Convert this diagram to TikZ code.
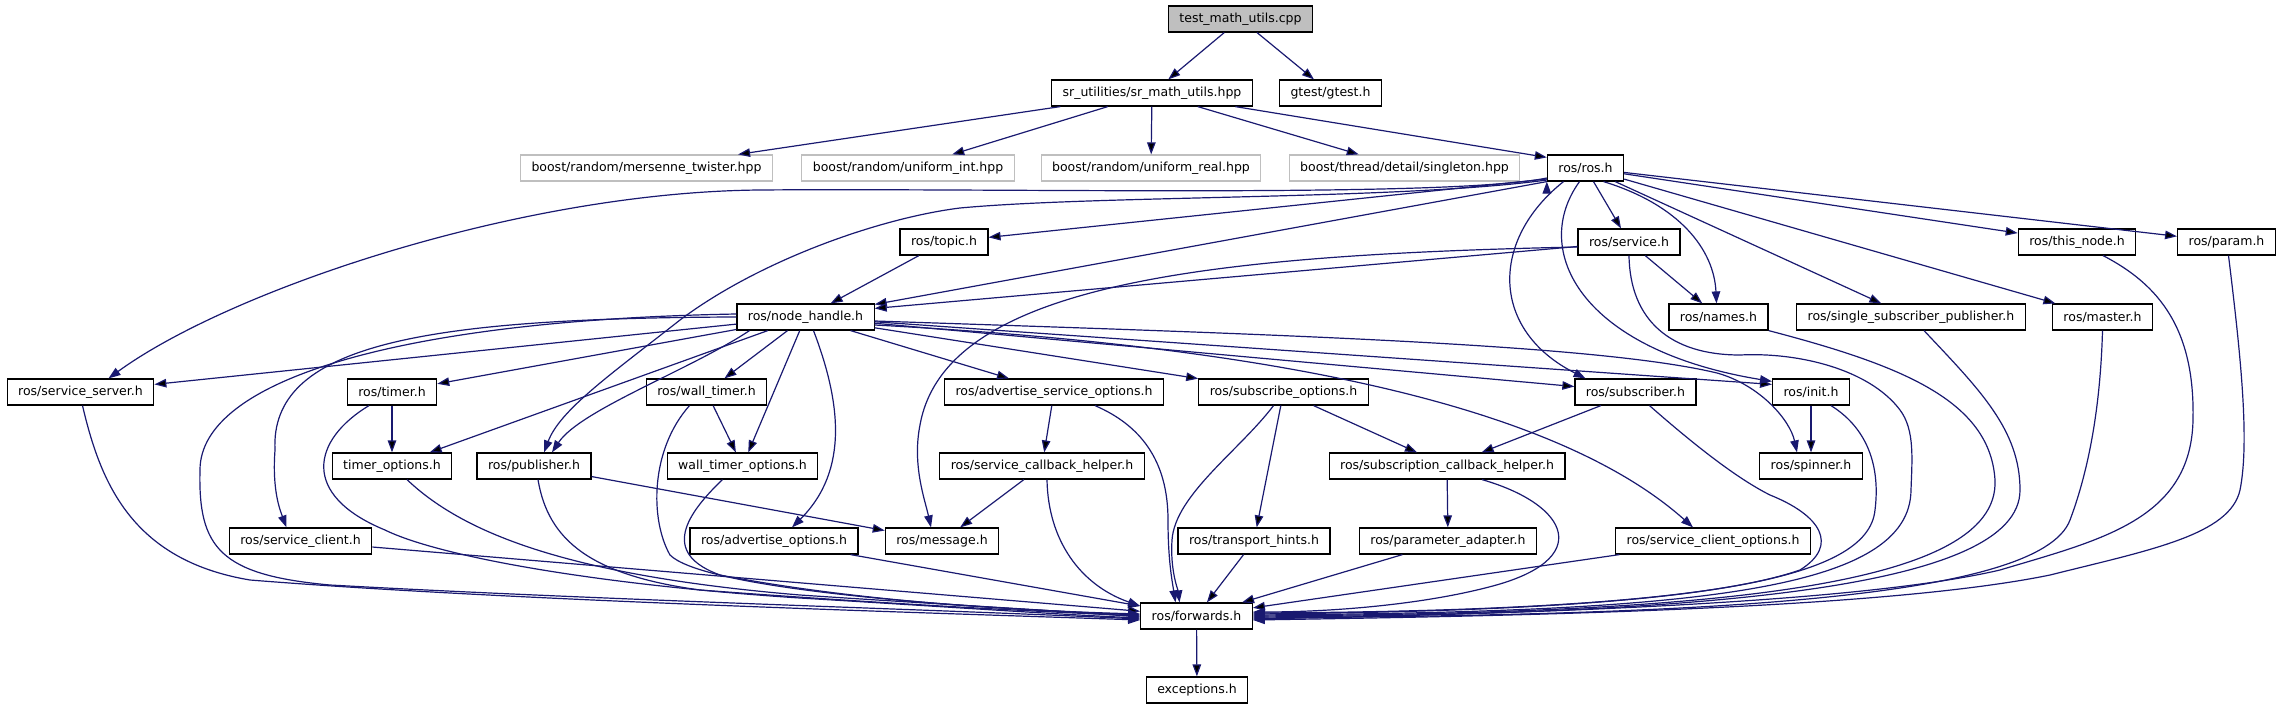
\documentclass[tikz,border=0pt]{standalone}
\usepackage{fontspec}
\setmainfont{DejaVu Sans}
\usepackage{tikz}
\usetikzlibrary{arrows.meta}
\definecolor{edgeblue}{HTML}{191970}
\definecolor{extgray}{HTML}{BFBFBF}
\tikzset{
  header/.style={
    draw=black,
    line width=1.2pt,
    fill=white,
    minimum height=26pt,
    inner xsep=11pt,
    inner ysep=0pt,
    font=\fontsize{12.5}{15}\selectfont
  },
  ext header/.style={
    header,
    draw=extgray
  },
  main header/.style={
    header,
    fill=extgray
  },
  dep/.style={
    draw=edgeblue,
    line width=1.2pt,
    ->
  }
}

\begin{document}
\begin{tikzpicture}[x=1pt, y=-1pt, >={Triangle[length=12pt,width=8.5pt]}]
   \useasboundingbox (0,0) rectangle (2281,709);

   \node[main header] (test) at (1240.5,19) {test\_math\_utils.cpp};
   \node[header] (srmath) at (1152,93) {sr\_utilities/sr\_math\_utils.hpp};
   \node[header] (gtest) at (1330.5,93) {gtest/gtest.h};
   \node[ext header] (twister) at (646.5,168) {boost/random/mersenne\_twister.hpp};
   \node[ext header] (uniint) at (908,168) {boost/random/uniform\_int.hpp};
   \node[ext header] (unireal) at (1151,168) {boost/random/uniform\_real.hpp};
   \node[ext header] (singleton) at (1404.5,168) {boost/thread/detail/singleton.hpp};
   \node[header] (ros) at (1585.5,168) {ros/ros.h};
   \node[header] (topic) at (944,242) {ros/topic.h};
   \node[header] (service) at (1629,242) {ros/service.h};
   \node[header] (thisnode) at (2077,242) {ros/this\_node.h};
   \node[header] (param) at (2226.5,242) {ros/param.h};
   \node[header] (nodehandle) at (805.5,317) {ros/node\_handle.h};
   \node[header] (names) at (1718.5,317) {ros/names.h};
   \node[header] (singlesub) at (1911,317) {ros/single\_subscriber\_publisher.h};
   \node[header] (master) at (2102.5,317) {ros/master.h};
   \node[header] (srvserver) at (80.5,392) {ros/service\_server.h};
   \node[header] (timer) at (392,392) {ros/timer.h};
   \node[header] (walltimer) at (706.5,392) {ros/wall\_timer.h};
   \node[header] (advsrvopts) at (1054,392) {ros/advertise\_service\_options.h};
   \node[header] (subopts) at (1283.5,392) {ros/subscribe\_options.h};
   \node[header] (subscriber) at (1635.5,392) {ros/subscriber.h};
   \node[header] (init) at (1811,392) {ros/init.h};
   \node[header] (timeropts) at (392,466) {timer\_options.h};
   \node[header] (publisher) at (534,466) {ros/publisher.h};
   \node[header] (walltimeropts) at (742.5,466) {wall\_timer\_options.h};
   \node[header] (srvhelper) at (1042,466) {ros/service\_callback\_helper.h};
   \node[header] (subhelper) at (1447,466) {ros/subscription\_callback\_helper.h};
   \node[header] (spinner) at (1811,466) {ros/spinner.h};
   \node[header] (srvclient) at (300.5,541) {ros/service\_client.h};
   \node[header] (advopts) at (774,541) {ros/advertise\_options.h};
   \node[header] (message) at (942,541) {ros/message.h};
   \node[header] (hints) at (1254,541) {ros/transport\_hints.h};
   \node[header] (adapter) at (1448,541) {ros/parameter\_adapter.h};
   \node[header] (srvclientopts) at (1713,541) {ros/service\_client\_options.h};
   \node[header] (forwards) at (1196.5,616) {ros/forwards.h};
   \node[header] (exceptions) at (1197,690) {exceptions.h};

\path[dep] (test) edge (srmath)
                  edge (gtest)
           (srmath) edge (twister)
                    edge (uniint)
                    edge (unireal)
                    edge (singleton)
                    edge ([yshift=-3pt]ros.north west)
           (ros) edge (service)
                 edge (singlesub)
                 edge (master)
                 edge (thisnode)
                 edge (param)
           ([yshift=-11pt]ros.west) edge (topic)
           (ros.south west) edge (nodehandle)
           (topic) edge (nodehandle)
           (service) edge ([yshift=-5pt]nodehandle.north east)
                     edge (names)
           (nodehandle) edge (srvserver)
                        edge (timer)
                        edge (timeropts)
                        edge (walltimer)
                        edge (walltimeropts)
                        edge (advsrvopts)
                        edge (subopts)
                        edge (subscriber)
                        edge ([yshift=-6pt]init.north west)
           (timer) edge (timeropts)
           (walltimer) edge (walltimeropts)
           (advsrvopts) edge (srvhelper)
           (srvhelper) edge (message)
           (subopts) edge (subhelper)
                     edge (hints)
           (subscriber) edge (subhelper)
           (init) edge (spinner)
           (subhelper) edge (adapter)
           (publisher) edge (message)
           (srvclient) edge (forwards)
           (advopts) edge (forwards)
           (hints) edge (forwards)
           (adapter) edge (forwards)
           (srvclientopts) edge (forwards)
           (forwards) edge (exceptions)
;

\draw[dep] ([yshift=-10pt]ros.west) .. controls (1450,198) and (1000,188) .. (760,190)
           .. controls (520,192) and (230,290) .. ([xshift=28pt]srvserver.north);
\draw[dep] ([yshift=-12pt]ros.west) .. controls (1400,200) and (1100,195) .. (960,208)
           .. controls (880,218) and (760,260) .. (680,320)
           .. controls (610,375) and (560,410) .. ([xshift=10pt]publisher.north);
\draw[dep] ([xshift=18pt]ros.south) .. controls (1680,205) and (1714,250) .. ([xshift=-2pt]names.north);
\draw[dep] ([xshift=-22pt]ros.south) .. controls (1490,240) and (1490,330) .. ([xshift=-50pt]subscriber.north);
\draw[dep] ([xshift=-6pt]ros.south) .. controls (1530,250) and (1580,350) .. ([yshift=-3pt]init.north west);
\draw[dep] ([yshift=-5pt]service.west) .. controls (1200,255) and (945,285) .. (920,425)
           .. controls (912,465) and (925,500) .. ([xshift=-11pt]message.north);
\draw[dep] (service.south) .. controls (1630,320) and (1670,355) .. (1740,355)
           .. controls (1800,352) and (1870,370) .. (1900,410)
           .. controls (1915,430) and (1912,460) .. (1911,490)
           .. controls (1910,590) and (1700,612) .. ([yshift=1pt]forwards.east);
\draw[dep] (names.south east) .. controls (1900,365) and (1990,400) .. (1995,480)
           .. controls (2000,590) and (1700,613) .. (forwards.east);
\draw[dep] ([xshift=13pt]singlesub.south) .. controls (1980,390) and (2020,430) .. (2020,490)
           .. controls (2020,590) and (1700,614) .. ([yshift=-1pt]forwards.east);
\draw[dep] (master.south) .. controls (2100,420) and (2085,480) .. (2070,520)
           .. controls (2040,600) and (1700,615) .. ([yshift=-2pt]forwards.east);
\draw[dep] ([xshift=26pt]thisnode.south) .. controls (2160,285) and (2195,330) .. (2193,420)
           .. controls (2191,520) and (2100,540) .. (2000,570)
           .. controls (1850,605) and (1500,614) .. ([yshift=-3pt]forwards.east);
\draw[dep] ([xshift=2pt]param.south) .. controls (2240,350) and (2250,440) .. (2240,490)
           .. controls (2230,535) and (2150,550) .. (2050,575)
           .. controls (1880,610) and (1500,616) .. ([yshift=-4pt]forwards.east);
\draw[dep] ([xshift=14pt]subscriber.south) .. controls (1700,450) and (1740,480) .. (1770,495)
           .. controls (1820,515) and (1840,545) .. (1800,570)
           .. controls (1700,605) and (1450,612) .. ([yshift=3pt]forwards.east);
\draw[dep] ([xshift=20pt]init.south) .. controls (1870,430) and (1880,470) .. (1875,510)
           .. controls (1868,580) and (1700,610) .. ([yshift=2pt]forwards.east);
\draw[dep] ([xshift=35pt]subhelper.south) .. controls (1570,505) and (1595,560) .. (1489,587)
           .. controls (1420,605) and (1330,612) .. ([yshift=4pt]forwards.east);

\draw[dep] ([xshift=-56pt]nodehandle.south) .. controls (690,370) and (580,410) .. ([xshift=18pt]publisher.north);
\draw[dep] ([xshift=8pt]nodehandle.south) .. controls (840,400) and (850,470) .. ([xshift=18pt]advopts.north);
\draw[dep] ([yshift=-4pt]nodehandle.east) .. controls (1300,335) and (1600,345) .. (1717,373)
           .. controls (1760,385) and (1790,420) .. ([xshift=-14pt]spinner.north);
\draw[dep] ([yshift=-8pt]nodehandle.east) .. controls (1250,345) and (1550,400) .. ([xshift=-20pt]srvclientopts.north);
\draw[dep] (nodehandle.west) .. controls (420,318) and (270,345) .. (275,450)
           .. controls (272,490) and (280,510) .. ([xshift=-14pt]srvclient.north);
\draw[dep] ([yshift=3pt]nodehandle.west) .. controls (400,320) and (200,380) .. (200,470)
           .. controls (198,548) and (220,575) .. (330,585)
           .. controls (600,600) and (950,610) .. ([yshift=-3pt]forwards.west);

\draw[dep] ([xshift=2pt]srvserver.south) .. controls (100,480) and (130,560) .. (250,580)
           .. controls (500,600) and (900,612) .. ([yshift=-4pt]forwards.west);
\draw[dep] ([xshift=-23pt]timer.south) .. controls (312,440) and (300,495) .. (385,530)
           .. controls (440,557) and (600,585) .. (800,598)
           .. controls (950,607) and (1050,614) .. ([yshift=-2pt]forwards.west);
\draw[dep] ([xshift=15pt]timeropts.south) .. controls (460,530) and (560,575) .. (800,595)
           .. controls (950,605) and (1050,610) .. ([yshift=-1pt]forwards.west);
\draw[dep] ([xshift=4pt]publisher.south) .. controls (548,540) and (590,575) .. (700,590)
           .. controls (900,605) and (1050,612) .. (forwards.west);
\draw[dep] ([xshift=-17pt]walltimer.south) .. controls (650,450) and (650,520) .. (670,555)
           .. controls (700,585) and (900,605) .. ([yshift=1pt]forwards.west);
\draw[dep] ([xshift=-20pt]walltimeropts.south) .. controls (680,520) and (665,555) .. (720,575)
           .. controls (850,600) and (1000,610) .. ([yshift=2pt]forwards.west);
\draw[dep] ([xshift=5pt]srvhelper.south) .. controls (1048,540) and (1080,585) .. ([yshift=10pt]forwards.west);
\draw[dep] ([xshift=41pt]advsrvopts.south) .. controls (1140,425) and (1168,460) .. (1168,520)
           .. controls (1168,560) and (1172,580) .. ([xshift=-21pt]forwards.north);
\draw[dep] ([xshift=-10pt]subopts.south) .. controls (1240,450) and (1175,495) .. (1172,540)
           .. controls (1170,570) and (1178,590) .. ([xshift=-17pt]forwards.north);
\end{tikzpicture}
\end{document}
